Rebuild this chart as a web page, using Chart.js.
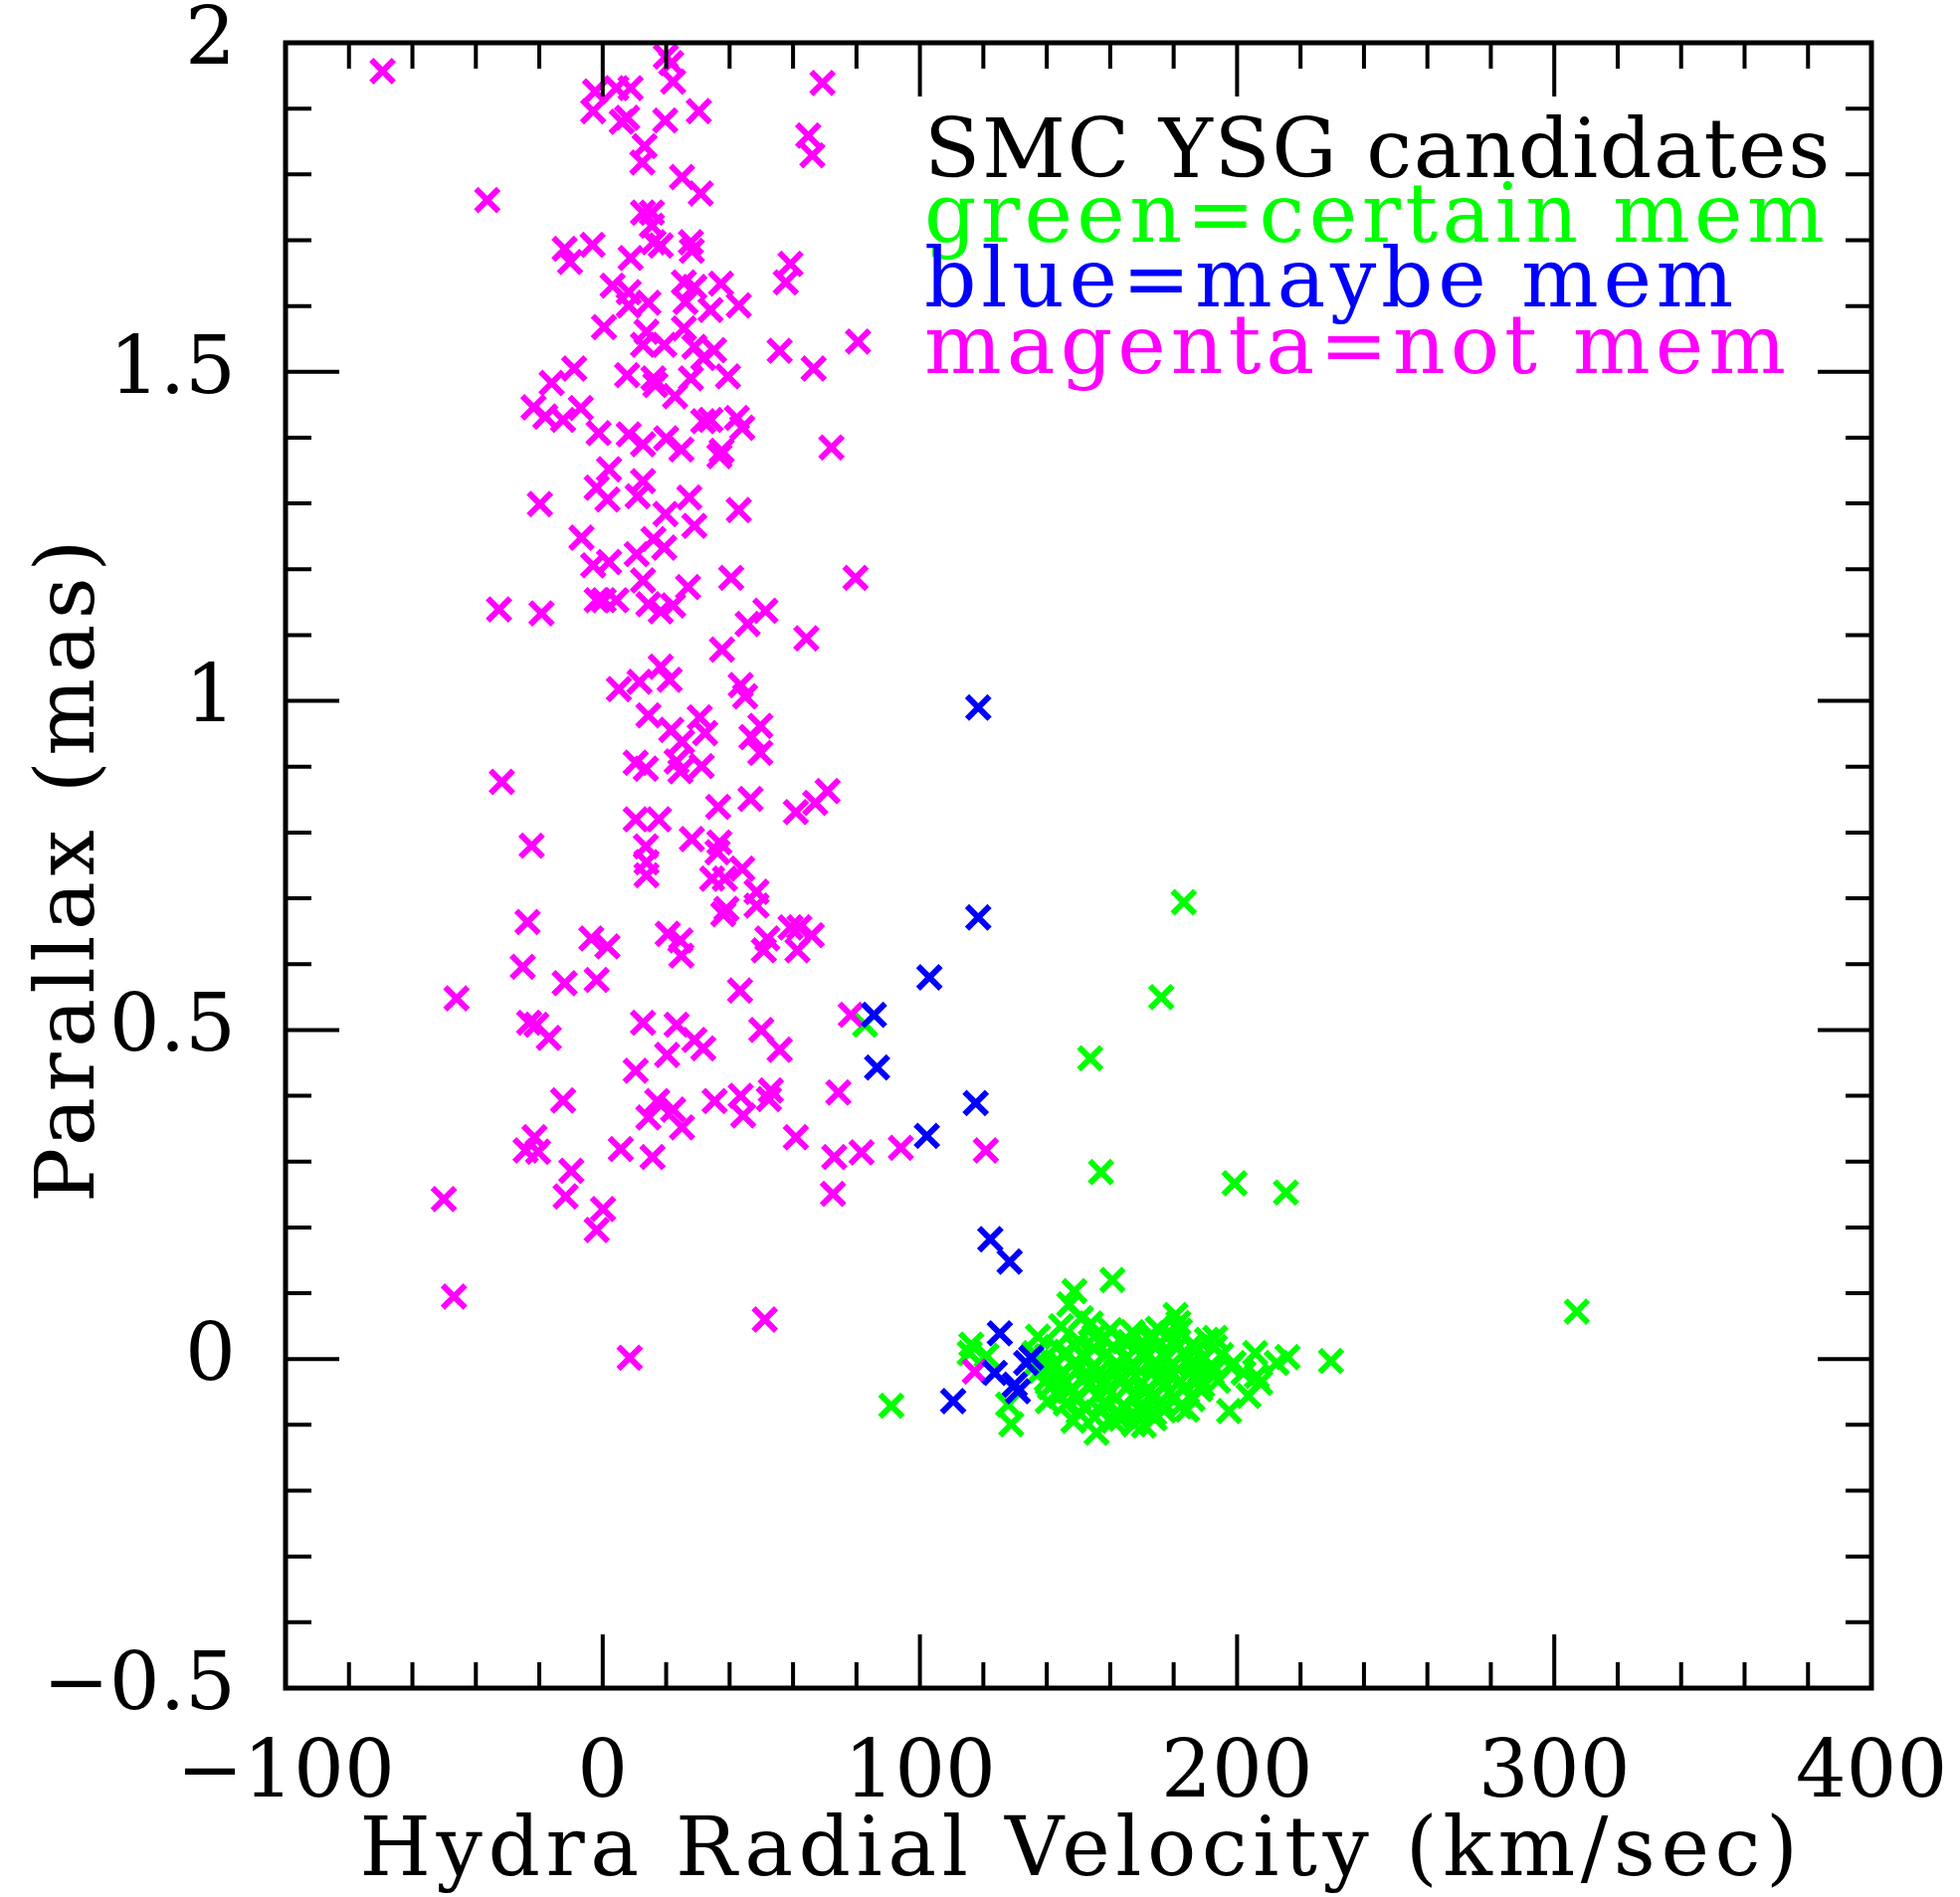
<!DOCTYPE html>
<html>
<head>
<meta charset="utf-8">
<script src="https://cdn.jsdelivr.net/npm/chart.js@4/dist/chart.umd.min.js"></script>
<style>
  html, body { margin: 0; padding: 0; background: #fff; }
  canvas { display: block; }
</style>
</head>
<body>
<canvas id="chart" width="1970" height="1907"></canvas>
<script>
// axis ticks
const xTicks = [-100, 0, 100, 200, 300, 400];
const yTicks = [-0.5, 0, 0.5, 1, 1.5, 2];
const xMinorStep = 20;
const yMinorStep = 0.1;

const xTitle = "Hydra Radial Velocity (km/sec)";
const yTitle = "Parallax (mas)";

const legendLines = ["SMC YSG candidates", "green=certain mem", "blue=maybe mem", "magenta=not mem"];
const legendColors = ["#000000", "#00ff00", "#0000ff", "#ff00ff"];

// [velocity, parallax]
const notMem = [
  [-69.4,1.957],[-36.4,1.761],[19.9,1.979],[21.6,1.969],[22.2,1.941],[69.3,1.939],[-2.4,1.926],[4.3,1.931],
  [8.8,1.931],[-3.0,1.896],[7.7,1.886],[6.0,1.880],[19.7,1.882],[30.3,1.896],[64.8,1.859],[66.1,1.829],
  [13.2,1.843],[12.5,1.818],[25.0,1.796],[30.9,1.771],[12.7,1.742],[15.5,1.742],[15.5,1.722],[-12.0,1.687],
  [-10.3,1.667],[-3.2,1.693],[8.8,1.673],[16.0,1.697],[18.3,1.692],[27.8,1.697],[28.1,1.684],[59.2,1.664],
  [57.7,1.636],[3.1,1.631],[8.2,1.621],[14.4,1.605],[8.2,1.601],[25.6,1.636],[26.1,1.606],[28.9,1.629],
  [34.0,1.594],[37.3,1.634],[42.9,1.601],[0.4,1.568],[13.8,1.561],[12.7,1.541],[19.4,1.541],[25.6,1.566],
  [28.9,1.538],[35.1,1.533],[31.7,1.521],[55.8,1.532],[80.5,1.546],[66.5,1.505],[-9.0,1.505],
  [7.7,1.495],[16.0,1.490],[16.6,1.480],[27.8,1.490],[39.5,1.493],[-16.1,1.483],[22.8,1.463],[-21.8,1.446],
  [-18.1,1.432],[-12.5,1.427],[-6.9,1.445],[-1.3,1.407],[8.2,1.405],[12.7,1.390],[20.0,1.399],[24.8,1.382],
  [31.7,1.425],[34.0,1.427],[42.3,1.430],[44.0,1.415],[36.8,1.372],[37.5,1.380],[72.1,1.385],[2.0,1.352],
  [-1.9,1.324],[1.5,1.306],[12.7,1.334],[11.0,1.311],[27.3,1.309],[19.8,1.284],[28.9,1.266],[42.9,1.290],
  [-19.8,1.299],[-6.7,1.248],[16.0,1.246],[19.4,1.233],[10.7,1.223],[-3.0,1.206],[2.0,1.211],[12.7,1.183],
  [26.9,1.173],[40.5,1.187],[79.7,1.187],[-32.7,1.139],[-19.3,1.133],[-1.9,1.153],[0.3,1.153],[4.3,1.153],
  [14.4,1.147],[18.3,1.136],[22.2,1.145],[45.7,1.117],[51.3,1.137],[64.2,1.095],[37.6,1.078],[18.3,1.052],
  [21.1,1.032],[11.6,1.029],[5.1,1.018],[43.5,1.024],[44.9,1.007],[14.4,0.978],[30.6,0.975],
  [21.6,0.956],[32.3,0.951],[49.7,0.962],[46.9,0.945],[49.7,0.921],[25.0,0.938],[10.4,0.906],[13.6,0.897],
  [23.3,0.908],[24.5,0.893],[31.2,0.901],[-31.8,0.877],[36.4,0.839],[46.6,0.851],[60.9,0.831],[67.0,0.845],
  [70.9,0.863],[10.4,0.820],[17.7,0.820],[-22.4,0.780],[13.6,0.779],[13.8,0.755],[13.8,0.735],[28.1,0.790],
  [36.8,0.785],[36.2,0.770],[44.0,0.745],[34.5,0.730],[38.5,0.730],[48.5,0.710],[48.5,0.689],[39.0,0.684],
  [38.0,0.676],[-23.7,0.664],[-3.6,0.639],[1.5,0.627],[20.5,0.646],[24.5,0.636],[24.8,0.613],[51.9,0.639],
  [50.8,0.621],[59.2,0.656],[62.0,0.656],[65.9,0.644],[61.4,0.621],[-25.2,0.596],[-12.0,0.571],[-1.9,0.576],
  [43.3,0.560],[-46.1,0.548],[78.2,0.523],[-23.2,0.511],[-20.9,0.508],[-17.0,0.488],[12.7,0.511],[23.3,0.508],
  [28.9,0.485],[31.7,0.472],[50.0,0.500],[55.8,0.470],[20.3,0.462],
  [10.4,0.438],[-12.5,0.393],[17.2,0.392],[14.4,0.367],[22.2,0.379],[25.0,0.352],[35.3,0.392],[43.5,0.400],
  [44.3,0.370],[53.0,0.408],[52.4,0.395],[74.3,0.405],[60.9,0.337],[73.0,0.307],[81.6,0.314],[94.0,0.321],
  [72.6,0.251],[-21.5,0.337],[-24.3,0.317],[-20.4,0.315],[-9.9,0.286],[-11.7,0.247],[5.7,0.319],[15.7,0.307],
  [0.1,0.228],[-1.9,0.196],[-50.1,0.243],[-46.9,0.095],[51.1,0.060],[8.5,0.002],[120.8,0.317],[117.3,-0.019]
];

const maybeMem = [
  [118.4,0.990],[118.4,0.671],[103.0,0.580],[85.5,0.523],[86.5,0.443],[117.6,0.389],[102.2,0.339],
  [122.2,0.182],[128.3,0.148],[125.2,0.039],[123.6,-0.021],[133.5,-0.006],[135.1,0.002],[129.9,-0.039],
  [130.9,-0.049],[110.5,-0.064]
];

const certainMem = [
  [82.7,0.508],[91.0,-0.071],[116.2,0.022],[115.7,0.009],[121.0,0.005],[127.8,-0.069],[128.8,-0.099],
  [183.2,0.694],[176.1,0.550],[153.7,0.457],[157.1,0.284],[199.2,0.267],[215.4,0.253],[307.1,0.072],
  [160.7,0.120],[148.7,0.103],[147.1,0.083],[150.8,0.062],[180.6,0.067],[181.5,0.055],[229.6,-0.003],
  [215.9,0.003],[205.7,0.009],[212.5,-0.006],[206.2,-0.026],[203.6,-0.056],[197.5,-0.079],[184.2,-0.077],
  [207.3,-0.036],[198.9,-0.006],[202.0,-0.021],[193.1,0.032],[155.7,-0.112],[148.4,-0.094],[167.5,-0.099],
  [170.6,-0.101],[163.3,-0.091],[140.3,-0.064],[136.1,0.009],[137.2,0.034],[144.5,0.050],[153.9,0.054],
  [155.0,0.034],[164.4,0.027],[173.8,0.034],[179.0,0.039],[190.5,0.029],[188.4,-0.046],[173.8,-0.082],
  [139.3,-0.011],[142.4,-0.036],
  [150,0.028],[158,0.031],[166,0.026],[172,0.033],[180,0.027],[186,0.022],
  [140,0.004],[146,0.011],[152,0.002],[159,0.008],[165,0.001],[171,0.012],[177,0.004],[183,0.009],[189,0.001],[195,0.006],
  [138,-0.018],[144,-0.024],[150,-0.015],[156,-0.022],[162,-0.019],[168,-0.026],[174,-0.017],[180,-0.023],[186,-0.016],[192,-0.021],
  [141,-0.043],[147,-0.049],[153,-0.041],[159,-0.047],[165,-0.044],[171,-0.050],[177,-0.042],[183,-0.046],[189,-0.040],
  [146,-0.068],[152,-0.074],[158,-0.066],[164,-0.071],[170,-0.069],[176,-0.064],[182,-0.072],
  [155,-0.088],[161,-0.094],[168,-0.086],[174,-0.090],
  [160,0.044],[167,0.041],[175,0.046],[182,0.043],
  [143,0.018],[149,0.020],[155,0.016],[161,0.019],[168,0.015],[175,0.021],[181,0.017],[187,0.014],[193,0.018],
  [137,-0.005],[143,-0.008],[149,-0.004],[155,-0.009],[162,-0.006],[168,-0.011],[174,-0.005],[180,-0.008],[186,-0.004],[192,-0.009],[198,-0.011],
  [140,-0.031],[146,-0.035],[152,-0.029],[158,-0.034],[164,-0.031],[170,-0.036],[176,-0.030],[182,-0.034],[188,-0.030],[194,-0.033],
  [144,-0.056],[150,-0.060],[156,-0.055],[162,-0.059],[168,-0.057],[174,-0.054],[180,-0.058],[186,-0.061],
  [150,-0.081],[157,-0.079],[163,-0.083],[170,-0.080],[177,-0.078]
];

const FONT = "'DejaVu Serif', 'Liberation Serif', serif";

function toPoints(list) {
  return list.map(p => ({ x: p[0], y: p[1] }));
}

function minusSign(v) {
  return String(v).replace("-", "\u2212");
}

// keep the plot box where it is, labels may hang into the margins
function noScalePadding(s) {
  s.paddingLeft = 0;
  s.paddingRight = 0;
  s.paddingTop = 0;
  s.paddingBottom = 0;
}

// frame with inward ticks on all four sides, drawn on top of the points
const frameTicks = {
  id: "frameTicks",
  afterDatasetsDraw(chart) {
    const ctx = chart.ctx;
    const a = chart.chartArea;
    const xs = chart.scales.x;
    const ys = chart.scales.y;
    const majorLen = 54, minorLen = 26;
    ctx.save();
    ctx.strokeStyle = "#000";
    ctx.lineWidth = 4;
    ctx.beginPath();
    for (let v = xs.min; v <= xs.max + 1e-6; v += xMinorStep) {
      const px = xs.getPixelForValue(v);
      const len = xTicks.some(t => Math.abs(t - v) < 1e-6) ? majorLen : minorLen;
      ctx.moveTo(px, a.bottom); ctx.lineTo(px, a.bottom - len);
      ctx.moveTo(px, a.top); ctx.lineTo(px, a.top + len);
    }
    for (let i = 0; ys.min + i * yMinorStep <= ys.max + 1e-6; i++) {
      const v = ys.min + i * yMinorStep;
      const py = ys.getPixelForValue(v);
      const len = yTicks.some(t => Math.abs(t - v) < 1e-6) ? majorLen : minorLen;
      ctx.moveTo(a.left, py); ctx.lineTo(a.left + len, py);
      ctx.moveTo(a.right, py); ctx.lineTo(a.right - len, py);
    }
    ctx.stroke();
    ctx.lineWidth = 5;
    ctx.strokeRect(a.left, a.top, a.right - a.left, a.bottom - a.top);
    ctx.restore();
  }
};

// axis titles and the coloured text legend
const labels = {
  id: "labels",
  afterDraw(chart) {
    const ctx = chart.ctx;
    const a = chart.chartArea;
    ctx.save();
    ctx.font = "82px " + FONT;
    ctx.letterSpacing = "5.5px";
    ctx.fillStyle = "#000";
    ctx.textAlign = "center";
    ctx.textBaseline = "alphabetic";
    ctx.fillText(xTitle, (a.left + a.right) / 2 + 3, a.bottom + 188);
    ctx.save();
    ctx.translate(94, (a.top + a.bottom) / 2 + 3);
    ctx.rotate(-Math.PI / 2);
    ctx.fillText(yTitle, 0, 0);
    ctx.restore();

    // each legend line is spaced out to the width it has in the original
    ctx.textAlign = "left";
    const lx = a.left + (a.right - a.left) * 0.4028;
    const baselines = [0.0816, 0.1209, 0.1602, 0.2007];
    const widths = [912, 909, 818, 871];
    legendLines.forEach((line, i) => {
      ctx.letterSpacing = "0px";
      const w = ctx.measureText(line).width;
      ctx.letterSpacing = ((widths[i] - w) / line.length).toFixed(2) + "px";
      ctx.fillStyle = legendColors[i];
      ctx.fillText(line, lx, a.top + (a.bottom - a.top) * baselines[i]);
    });
    ctx.restore();
  }
};

function series(label, list, color) {
  return {
    label: label,
    data: toPoints(list),
    borderColor: color,
    backgroundColor: color,
    pointBorderColor: color,
    pointBackgroundColor: color,
    pointStyle: "crossRot",
    pointRadius: 16,
    pointHoverRadius: 16,
    pointBorderWidth: 6,
    clip: false
  };
}

new Chart(document.getElementById("chart"), {
  type: "scatter",
  data: {
    datasets: [
      series("maybe mem", maybeMem, "#0000ff"),
      series("not mem", notMem, "#ff00ff"),
      series("certain mem", certainMem, "#00ff00")
    ]
  },
  options: {
    responsive: false,
    animation: false,
    events: [],
    layout: { padding: { top: 43, right: 89, left: 0, bottom: 0 } },
    plugins: {
      legend: { display: false },
      tooltip: { enabled: false }
    },
    scales: {
      x: {
        type: "linear",
        min: -100,
        max: 400,
        afterBuildTicks: s => { s.ticks = xTicks.map(v => ({ value: v })); },
        afterFit: s => { s.height = 210; noScalePadding(s); },
        grid: { display: false },
        border: { display: false },
        ticks: {
          autoSkip: false,
          maxRotation: 0,
          padding: 40,
          color: "#000",
          font: { family: FONT, size: 80, lineHeight: 1 },
          callback: v => minusSign(v)
        }
      },
      y: {
        type: "linear",
        min: -0.5,
        max: 2,
        afterBuildTicks: s => { s.ticks = yTicks.map(v => ({ value: v })); },
        afterFit: s => { s.width = 287; noScalePadding(s); },
        grid: { display: false },
        border: { display: false },
        ticks: {
          autoSkip: false,
          padding: 42,
          color: "#000",
          font: { family: FONT, size: 80, lineHeight: 1 },
          callback: v => minusSign(v)
        }
      }
    }
  },
  plugins: [frameTicks, labels]
});
</script>
</body>
</html>
